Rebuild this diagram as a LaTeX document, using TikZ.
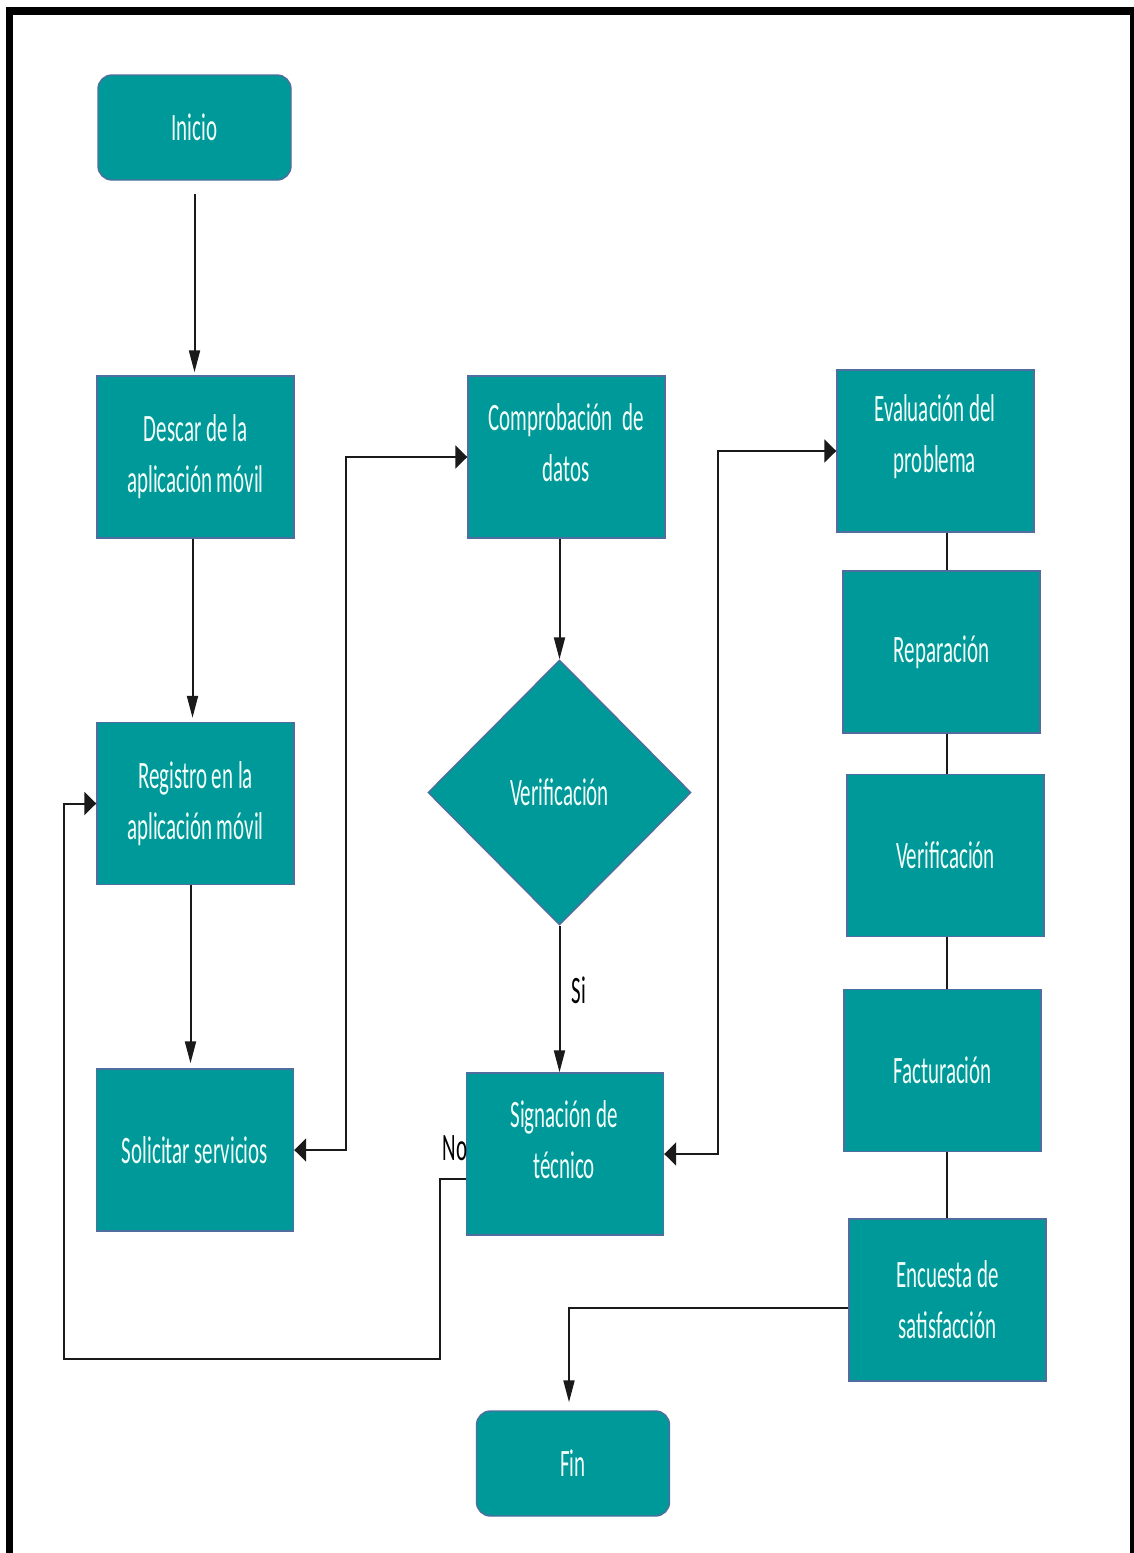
\documentclass[tikz,border=0pt]{standalone}
\usepackage{fontspec}
\newfontfamily\boxfont[FakeStretch=0.54]{Carlito}
\usetikzlibrary{arrows.meta,shapes.geometric}

\definecolor{flowteal}{HTML}{009999}
\definecolor{flowedge}{HTML}{4F6D9E}
\definecolor{flowtext}{HTML}{F2FFFA}
\definecolor{wire}{HTML}{1A1A1A}

\begin{document}
\begin{tikzpicture}[x=0.5pt,y=-0.5pt,
  every node/.style={font=\boxfont\fontsize{19.4pt}{25.5pt}\selectfont},
  procbox/.style={draw=flowedge,line width=0.7pt,fill=flowteal,text=flowtext,
    minimum width=98.5pt,minimum height=81pt,inner sep=0pt,align=center},
  termbox/.style={procbox,rounded corners=7pt,minimum width=96.5pt,minimum height=52.5pt},
  decbox/.style={diamond,draw=flowedge,line width=0.7pt,fill=flowteal,text=flowtext,
    minimum width=131.5pt,minimum height=132.5pt,inner sep=0pt},
  boxtext/.style={text=flowtext,align=center,inner sep=0pt},
  flowlabel/.style={text=black,inner sep=0pt},
  wireline/.style={draw=wire,line width=1pt},
  harrow/.style={wireline,-{Triangle[length=6pt,width=11.5pt]}},
  varrow/.style={wireline,-{Triangle[length=11pt,width=5.5pt]}},
  hboth/.style={wireline,{Triangle[length=6pt,width=11.5pt]}-{Triangle[length=6pt,width=11.5pt]}}
]
% page and frame
\fill[white] (0,0) rectangle (1134,1553);
\useasboundingbox (0,0) rectangle (1134,1553);
\fill[black] (6,7) rectangle (1134,15);
\fill[black] (6,7) rectangle (13,1553);
\fill[black] (1130,7) rectangle (1133.5,1553);

% left column
\node[termbox] (ini) at (194.5,127.5) {Inicio};
\node[procbox] (dsc) at (195.5,457) {Descar de la\\aplicación móvil};
\node[procbox] (reg) at (195.5,803.5) {Registro en la\\aplicación móvil};
\node[procbox] (sol) at (195,1150) {Solicitar servicios};

% middle column
\node[procbox] (cmp) at (566.5,457) {};
\node[boxtext] (cmpt) at (566,442.5) {Comprobación\ \ de\\datos};
\node[decbox] (ver) at (559.5,792.5) {Verificación};
\node[procbox] (sig) at (565,1154) {};
\node[boxtext] (sigt) at (564,1140) {Signación de\\técnico};
\node[termbox] (fin) at (573,1463.5) {Fin};

% right column
\node[procbox] (eva) at (935.5,451) {};
\node[boxtext] (evat) at (935,437) {Evaluación del\\problema};
\node[procbox] (rep) at (941.5,652) {Reparación};
\node[procbox] (vrf) at (945.5,855.5) {Verificación};
\node[procbox] (fac) at (942.5,1070.5) {Facturación};
\node[procbox] (enc) at (947.5,1300) {Encuesta de\\satisfacción};

% bend points of the routed connectors
\coordinate (bendA) at (346,0);
\coordinate (bendB) at (440,1359);
\coordinate (bendC) at (64,1359);
\coordinate (bendD) at (718,0);
\coordinate (spine) at (947,0);

% left column arrows
\draw[varrow] ([yshift=-6.5pt]ini.south) -- ([yshift=1.5pt]ini.south |- dsc.north);
\draw[varrow] ([xshift=-1.5pt]dsc.south) -- ([xshift=-1.5pt,yshift=2pt]dsc.south |- reg.north);
\draw[varrow] ([xshift=-2.5pt]reg.south) -- ([xshift=-2.5pt,yshift=2.5pt]reg.south |- sol.north);

% solicitar <-> comprobacion
\draw[hboth] (sol.east) -- (sol.east -| bendA) -- (cmp.west -| bendA) -- (cmp.west);

% decision
\draw[varrow] (ver.north |- cmp.south) -- (ver.north);
\draw[varrow] (ver.south) -- (ver.south |- sig.north);
\node[flowlabel] (si) at (579,990) {Si};

% "No" loop back to registration
\draw[harrow] ([yshift=-12.5pt]sig.west) -| (bendB) -- (bendC) |- (reg.west);
\node[flowlabel] (no) at (455,1148) {No};

% signacion <-> evaluacion
\draw[hboth] (sig.east) -- (sig.east -| bendD) -- (eva.west -| bendD) -- (eva.west);

% right column chain
\draw[wireline] (eva.south -| spine) -- (rep.north -| spine);
\draw[wireline] (rep.south -| spine) -- (vrf.north -| spine);
\draw[wireline] (vrf.south -| spine) -- (fac.north -| spine);
\draw[wireline] (fac.south -| spine) -- (enc.north -| spine);

% to the end
\draw[varrow] ([yshift=-4pt]enc.west) -| ([xshift=-2pt,yshift=4pt]fin.north);
\end{tikzpicture}
\end{document}
